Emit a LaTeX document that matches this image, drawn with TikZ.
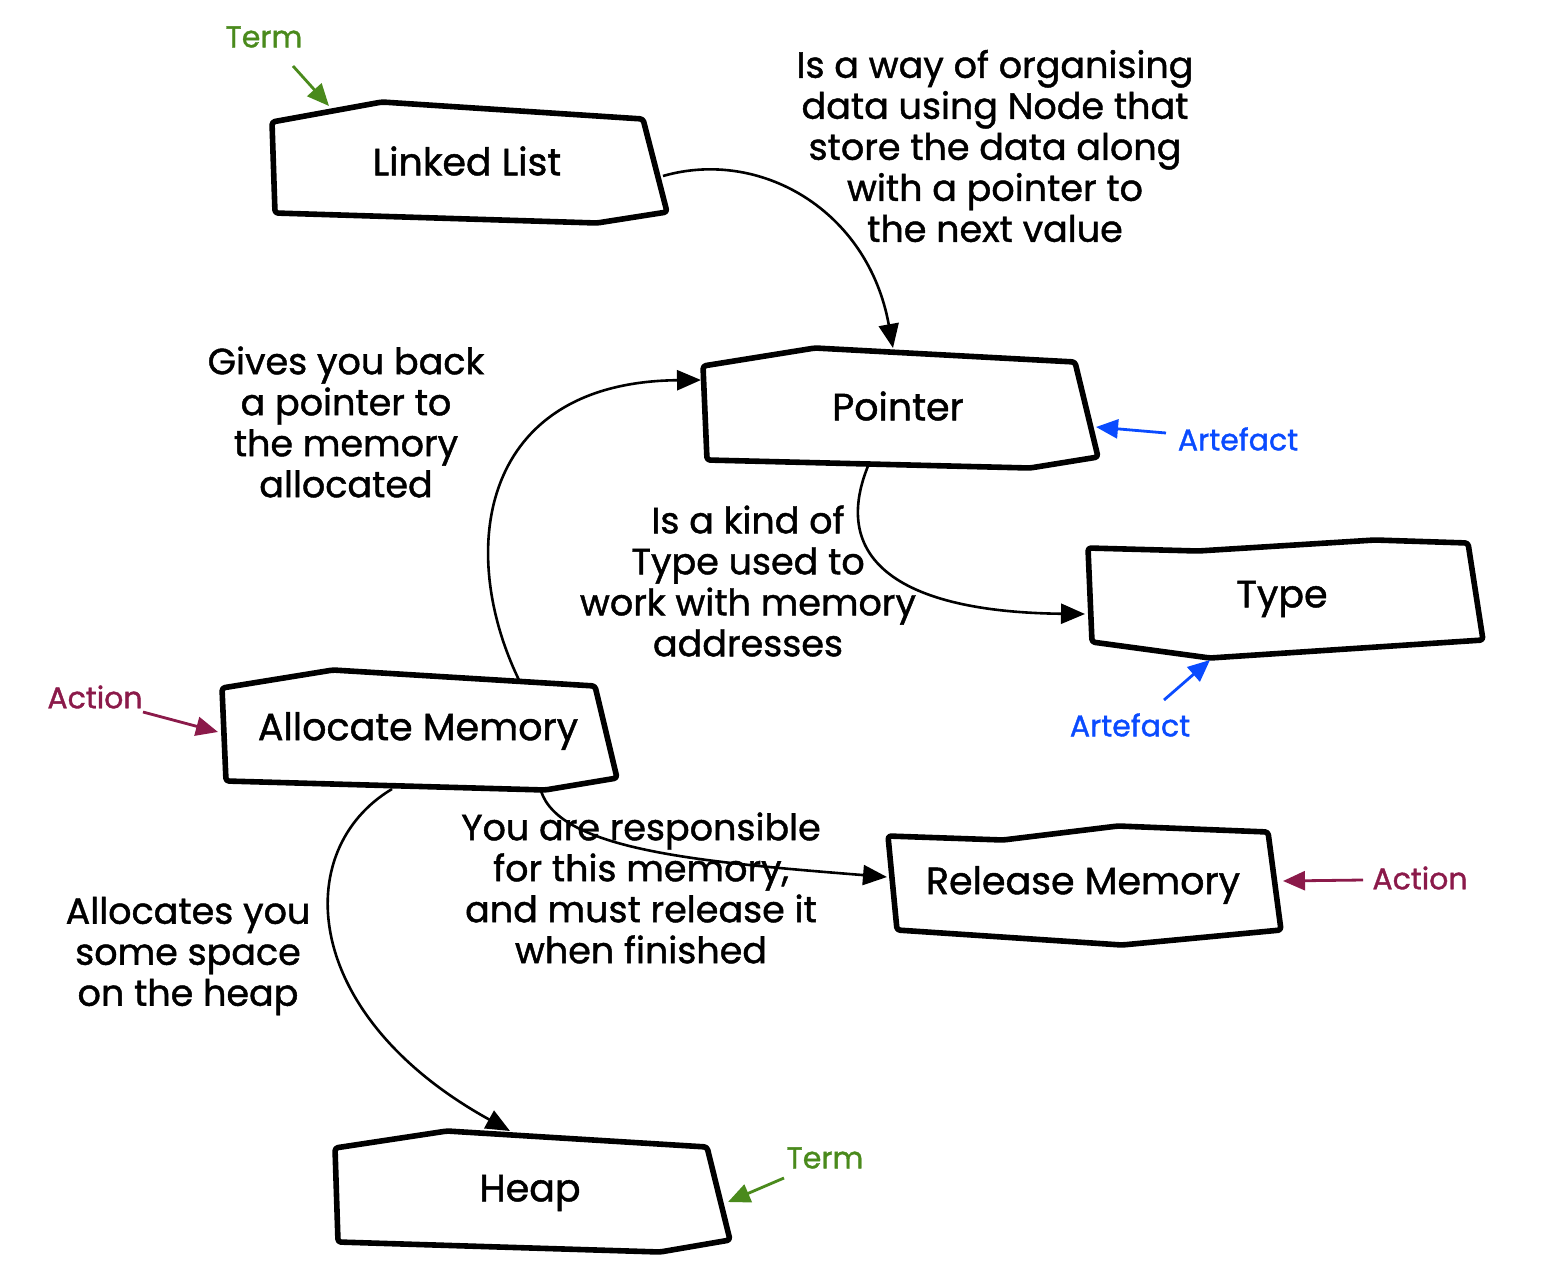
\documentclass[tikz,border=0pt]{standalone}
\usepackage{fontspec}
\setmainfont{Poppins}[FakeBold=1.2]
\usetikzlibrary{arrows.meta}
\definecolor{termgreen}{HTML}{4A8A1C}
\definecolor{artblue}{HTML}{0A4BFF}
\definecolor{actred}{HTML}{8B1A4A}
\begin{document}
\begin{tikzpicture}[x=1pt,y=-1pt,
  box/.style={draw=black, line width=5.6pt, line join=round, rounded corners=3pt, fill=white},
  boxtxt/.style={font=\fontsize{38}{41}\selectfont, inner sep=0pt},
  lbl/.style={font=\fontsize{36.5}{41}\selectfont, align=center, inner sep=0pt},
  conn/.style={line width=2.6pt, -{Triangle[length=24pt,width=20pt]}},
  notetxt/.style={font=\fontsize{30}{34}\selectfont, inner sep=0pt},
  notearr/.style={line width=2.8pt, -{Triangle[length=22pt,width=19pt]}}]
\useasboundingbox (0,0) rectangle (1543,1272);

% boxes
\draw[box] (272,122) -- (382,102) -- (643,119) -- (667,212) -- (597,223) -- (275,213) -- cycle;
\node[boxtxt] (ll) at (467,161) {Linked List};

\draw[box] (703,366) -- (815,348) -- (1075,362) -- (1098,457) -- (1030,468) -- (707,460) -- cycle;
\node[boxtxt] (ptr) at (898,406) {Pointer};

\draw[box] (1088,548) -- (1198,551) -- (1375,540) -- (1468,543) -- (1483,640) -- (1210,658) -- (1092,642) -- cycle;
\node[boxtxt] (type) at (1282,599) {Type};

\draw[box] (222,688) -- (333,670) -- (595,686) -- (617,778) -- (545,790) -- (226,781) -- cycle;
\node[boxtxt] (alloc) at (418,731) {Allocate Memory};

\draw[box] (888,836) -- (1003,840) -- (1118,826) -- (1268,832) -- (1281,930) -- (1122,945) -- (897,930) -- cycle;
\node[boxtxt] (rel) at (1083,885) {Release Memory};

\draw[box] (335,1148) -- (447,1131) -- (707,1147) -- (730,1240) -- (660,1252) -- (338,1242) -- cycle;
\node[boxtxt] (heap) at (530,1193) {Heap};

% connector end points
\coordinate (ll-out) at (663,176);
\coordinate (ptr-in-top) at (893,348);
\coordinate (alloc-out-top) at (519,680);
\coordinate (ptr-in-left) at (701,380);
\coordinate (ptr-out) at (868,466);
\coordinate (type-in) at (1085,614);
\coordinate (alloc-out-r) at (541,791);
\coordinate (rel-in) at (887,877);
\coordinate (alloc-out-b) at (392,789);
\coordinate (heap-in) at (510,1131);

% connectors
\draw[conn] (ll-out) .. controls (760,148) and (868,210) .. (ptr-in-top);
\draw[conn] (alloc-out-top) .. controls (456,550) and (480,382) .. (ptr-in-left);
\draw[conn] (ptr-out) .. controls (830,560) and (900,612) .. (type-in);
\draw[conn] (alloc-out-r) .. controls (560,850) and (700,862) .. (rel-in);
\draw[conn] (alloc-out-b) .. controls (290,850) and (300,1015) .. (heap-in);

% connector labels
\node[lbl] (l1) at (995,146) {Is a way of organising\\data using Node that\\store the data along\\with a pointer to\\the next value};
\node[lbl] (l2) at (346,422) {Gives you back\\a pointer to\\the memory\\allocated};
\node[lbl] (l3) at (748,581) {Is a kind of\\Type used to\\work with memory\\addresses};
\node[lbl] (l4) at (641,888) {You are responsible\\for this memory,\\and must release it\\when finished};
\node[lbl] (l5) at (188,956) {Allocates you\\some space\\on the heap};

% annotations
\node[notetxt, text=termgreen] (t1) at (264,37) {Term};
\coordinate (t1-a) at (293,66);
\coordinate (ll-tag) at (329,106);
\draw[notearr, termgreen] (t1-a) -- (ll-tag);

\node[notetxt, text=artblue] (a1) at (1238,439) {Artefact};
\coordinate (a1-a) at (1166,433);
\coordinate (ptr-tag) at (1096,427);
\draw[notearr, artblue] (a1-a) -- (ptr-tag);

\node[notetxt, text=artblue] (a2) at (1130,725) {Artefact};
\coordinate (a2-a) at (1164,700);
\coordinate (type-tag) at (1210,660);
\draw[notearr, artblue] (a2-a) -- (type-tag);

\node[notetxt, text=actred] (c1) at (95,697) {Action};
\coordinate (c1-a) at (143,712);
\coordinate (alloc-tag) at (218,732);
\draw[notearr, actred] (c1-a) -- (alloc-tag);

\node[notetxt, text=actred] (c2) at (1420,878) {Action};
\coordinate (c2-a) at (1363,880);
\coordinate (rel-tag) at (1283,881);
\draw[notearr, actred] (c2-a) -- (rel-tag);

\node[notetxt, text=termgreen] (t2) at (825,1158) {Term};
\coordinate (t2-a) at (784,1178);
\coordinate (heap-tag) at (728,1202);
\draw[notearr, termgreen] (t2-a) -- (heap-tag);
\end{tikzpicture}
\end{document}
